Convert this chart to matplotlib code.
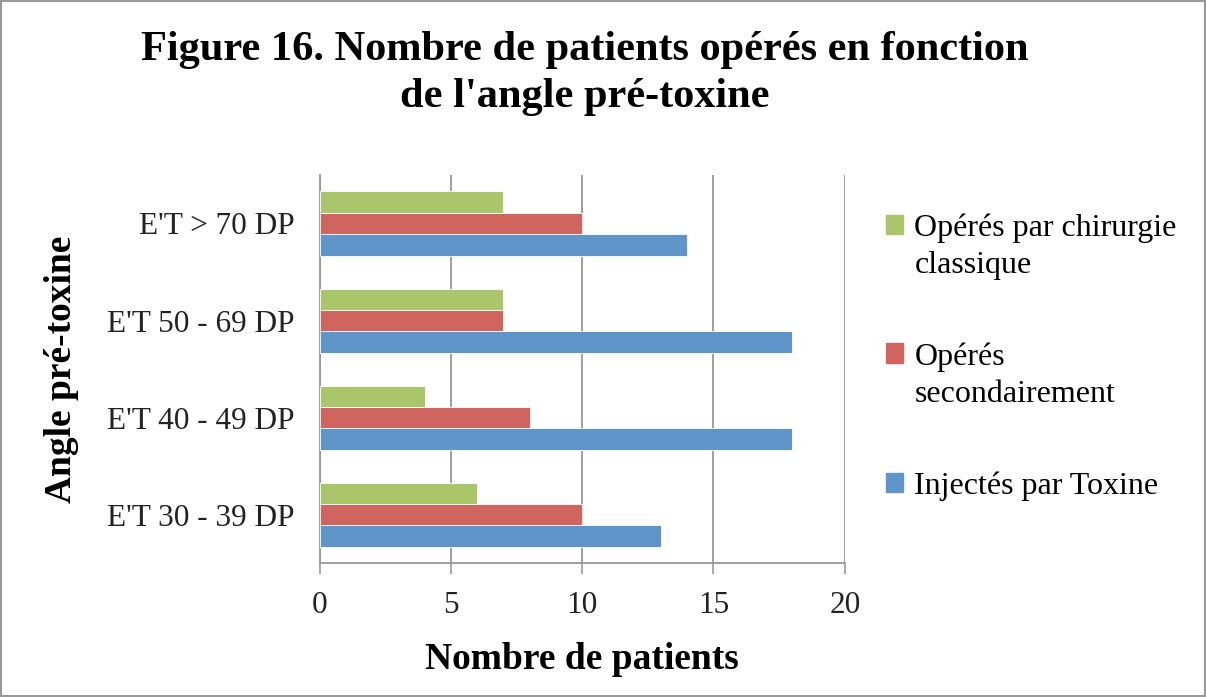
import matplotlib.pyplot as plt
import numpy as np
from matplotlib.patches import Rectangle, Patch
from matplotlib.legend_handler import HandlerPatch

# Donnees
categories = ["E'T 30 - 39 DP", "E'T 40 - 49 DP", "E'T 50 - 69 DP", "E'T > 70 DP"]
toxine = [13, 18, 18, 14]
secondaire = [10, 8, 7, 10]
chirurgie = [6, 4, 7, 7]
series_labels = ["Injectés par Toxine", "Opérés\nsecondairement", "Opérés par chirurgie\nclassique"]
couleurs = ["#5F95C9", "#D06560", "#ABC56B"]

plt.rcParams['font.family'] = ['Liberation Serif', 'DejaVu Serif']

fig = plt.figure(figsize=(12.06, 6.97), dpi=100)
ax = fig.add_axes([0.265, 0.192, 0.4355, 0.557])

y = np.arange(len(categories))
h = 0.22
for k, (vals, lab, col) in enumerate(zip([toxine, secondaire, chirurgie], series_labels, couleurs)):
  ax.barh(y + (k - 1) * h, vals, height=h, color=col, label=lab,
          edgecolor='white', linewidth=0.6, zorder=3)

ax.set_xlim(0, 20)
ax.set_ylim(-0.5, 3.5)
ax.set_xticks([0, 5, 10, 15, 20])
ax.set_yticks(y)
ax.set_yticklabels(categories)
ax.tick_params(axis='both', labelsize=22.5, colors='#222222')
ax.tick_params(axis='y', length=0, pad=18)
ax.tick_params(axis='x', direction='out', length=8, color='#999999', width=1.2, pad=12)
ax.grid(axis='x', color='#999999', linewidth=1.3, zorder=0)
for s in ['top', 'right']:
  ax.spines[s].set_visible(False)
ax.spines['left'].set_color('#999999')
ax.spines['left'].set_linewidth(1.3)
ax.spines['bottom'].set_color('#999999')
ax.spines['bottom'].set_linewidth(1.3)

ax.set_xlabel("Nombre de patients", fontsize=27, fontweight='bold', labelpad=16)
ax.set_ylabel("Angle pré-toxine", fontsize=27, fontweight='bold', labelpad=20)

fig.text(0.485, 0.955, "Figure 16. Nombre de patients opérés en fonction\nde l'angle pré-toxine",
         ha='center', va='top', fontsize=30.5, fontweight='bold', linespacing=1.3)

# carre de legende aligne sur la premiere ligne du texte
def carre_haut(legend, orig_handle, xdescent, ydescent, width, height, fontsize):
  return Rectangle((-xdescent, -ydescent + 0.7 * fontsize), width, height)

def carre(legend, orig_handle, xdescent, ydescent, width, height, fontsize):
  return Rectangle((-xdescent, -ydescent), width, height)

handles = []
hmap = {}
for col, lab in zip(couleurs[::-1], series_labels[::-1]):
  p = Patch(color=col, label=lab)
  handles.append(p)
  hmap[p] = HandlerPatch(patch_func=carre_haut if '\n' in lab else carre)

leg = ax.legend(handles=handles, handler_map=hmap, loc='upper left',
                bbox_to_anchor=(1.023, 0.975), frameon=False, fontsize=23,
                handlelength=0.55, handleheight=0.55, handletextpad=0.35,
                labelspacing=1.94)
for t in leg.get_texts():
  t.set_linespacing(1.38)

fig.add_artist(Rectangle((0.001, 0.001), 0.998, 0.997, transform=fig.transFigure,
                         fill=False, edgecolor='#999999', linewidth=1.5))

plt.savefig('out.png', dpi=100)
plt.close()
